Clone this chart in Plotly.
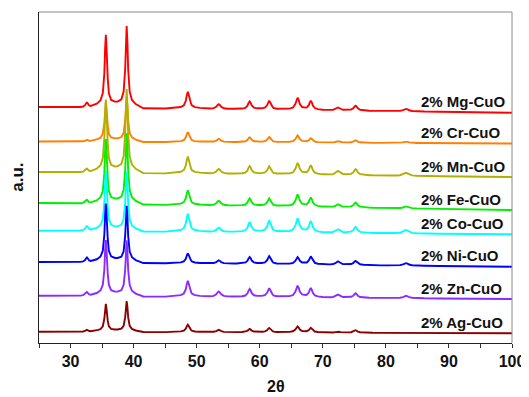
import numpy as np
import plotly.graph_objects as go

# ---- data ----
samples = ["2% Mg-CuO", "2% Cr-CuO", "2% Mn-CuO", "2% Fe-CuO",
           "2% Co-CuO", "2% Ni-CuO", "2% Zn-CuO", "2% Ag-CuO"]
colors = ["#FF0000", "#FF8000", "#B0B000", "#00F000",
          "#00FFFF", "#0000FF", "#8A2BFF", "#8B0000"]

# CuO reflection positions (2theta) and relative peak widths
peak_pos = [32.6, 35.6, 38.9, 48.6, 53.5, 58.4, 61.5, 66.0, 68.1, 72.4, 75.2, 83.2]
peak_wid = [1.5, 1.2, 1.2, 1.6, 2.0, 1.7, 1.7, 1.8, 1.6, 2.0, 1.8, 2.4]

# peak intensities per sample (a.u.), same order as peak_pos
heights = {
    "2% Mg-CuO": [5, 73, 82, 17, 5, 8, 9, 12, 9, 3, 5, 2.5],
    "2% Cr-CuO": [2, 40, 45, 10, 3.5, 5, 5.5, 7, 4, 1.5, 2.5, 1.5],
    "2% Mn-CuO": [4, 73, 84, 17, 5, 8, 8, 11.5, 9, 4, 6, 3],
    "2% Fe-CuO": [4, 65, 71, 15, 5, 7.5, 8, 12, 9, 3, 5, 2],
    "2% Co-CuO": [5, 60, 60, 18, 4.5, 10, 12, 14, 11, 3.5, 6, 3.5],
    "2% Ni-CuO": [5, 59, 57, 10, 3.5, 7, 8, 7, 8, 3.5, 4, 2.5],
    "2% Zn-CuO": [4, 56, 56, 16, 5.5, 8, 9, 11.5, 9, 3, 4.5, 2.5],
    "2% Ag-CuO": [2, 28, 31, 7.5, 2.5, 3.5, 4.5, 6, 4.5, 1, 2.5, 0.5],
}
# stacked baseline level at 2theta=25 and 2theta=100
base_left = [236, 201.5, 171, 140, 112.3, 81, 47.3, 11.3]
base_right = [230.3, 199.5, 166, 133, 108.7, 76.3, 44, 9.7]

# peak profile shape (fraction of peak height vs offset in degrees)
profile_dx = [-2.2, -1.2, -0.7, -0.4, -0.2, -0.1, 0.0, 0.1, 0.2, 0.4, 0.7, 1.2, 2.2]
profile_frac = [0, 0.05, 0.1, 0.2, 0.47, 0.8, 1.0, 0.8, 0.47, 0.2, 0.1, 0.05, 0]

x_ticks = [30, 40, 50, 60, 70, 80, 90, 100]

# ---- build curves ----
dx = np.array(profile_dx)
fr = np.array(profile_frac)
xs = [25.0, 100.0]
for p, w in zip(peak_pos, peak_wid):
    xs.extend(list(p + w * dx))
x = np.unique(np.round(np.array([v for v in xs if 25 <= v <= 100]), 4))

fig = go.Figure()
for i, name in enumerate(samples):
    base = base_left[i] + (base_right[i] - base_left[i]) * (x - 25) / 75.0
    y = base.copy()
    for p, w, h in zip(peak_pos, peak_wid, heights[name]):
        y += h * np.interp(x - p, w * dx, fr, left=0, right=0)
    fig.add_trace(go.Scatter(x=x, y=y, mode="lines",
                             line=dict(color=colors[i], width=1.9),
                             showlegend=False, hoverinfo="skip"))
    fig.add_annotation(x=85.3, y=base_right[i] + 11, text="<b>%s</b>" % name,
                       xanchor="left", yanchor="middle", showarrow=False,
                       font=dict(size=15, color="#111111",
                                 family="Liberation Sans, Arial"))

font_fam = "Liberation Sans, Arial"
# page body has an 8px default margin, so the figure is 8px smaller
fig.update_layout(
    width=521, height=389,
    margin=dict(l=31, r=14, t=4, b=54),
    paper_bgcolor="white", plot_bgcolor="white",
    font=dict(family=font_fam, color="#111111"),
    xaxis=dict(range=[25, 100], tickvals=x_ticks,
               ticktext=["<b>%d</b>" % v for v in x_ticks],
               tickfont=dict(size=16, family=font_fam, color="#111111"),
               ticks="outside", ticklen=4, tickwidth=1, tickcolor="#333333",
               minor=dict(tickvals=[25, 35, 45, 55, 65, 75, 85, 95],
                          ticks="outside", ticklen=4, tickcolor="#333333"),
               showline=True, linecolor="#222222", linewidth=1.3,
               showgrid=False, zeroline=False),
    yaxis=dict(range=[0, 331], showticklabels=False, ticks="",
               showline=True, linecolor="#222222", linewidth=1.3,
               showgrid=False, zeroline=False),
)
# grey top and right frame
fig.add_shape(type="line", xref="paper", yref="paper", x0=0, x1=1, y0=1, y1=1,
              line=dict(color="#8A8A8A", width=1))
fig.add_shape(type="line", xref="paper", yref="paper", x0=1, x1=1, y0=0, y1=1,
              line=dict(color="#8A8A8A", width=1))
# axis titles
fig.add_annotation(xref="paper", yref="paper", x=0.5, y=-0.13, text="<b>2θ</b>",
                   showarrow=False, xanchor="center", yanchor="middle",
                   font=dict(size=16, family=font_fam, color="#111111"))
fig.add_annotation(xref="paper", yref="paper", x=-0.046, y=0.5, text="<b>a.u.</b>",
                   showarrow=False, xanchor="center", yanchor="middle", textangle=-90,
                   font=dict(size=17, family=font_fam, color="#111111"))

fig.write_html("out.html", config={"displayModeBar": False})
